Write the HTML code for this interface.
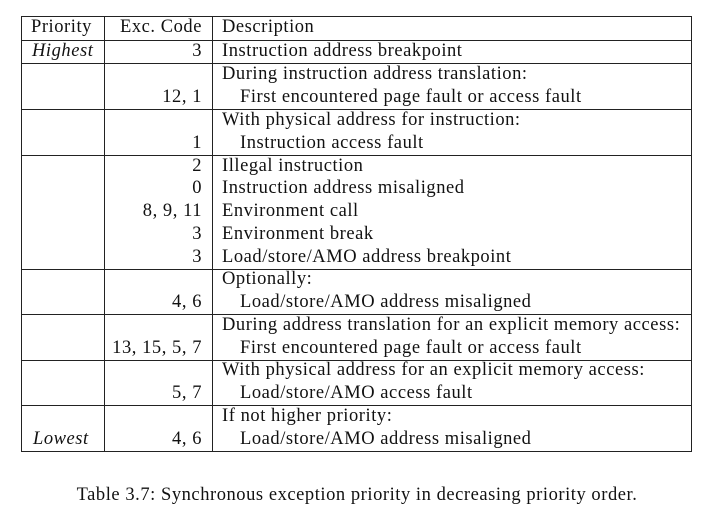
<!DOCTYPE html>
<html><head><meta charset="utf-8"><style>
body{margin:0;background:#fff;width:722px;height:521px;position:relative;overflow:hidden;font-family:"Liberation Serif",serif;font-size:18.5px;letter-spacing:0.55px;color:#111}
.h{position:absolute;height:1px;background:#222;left:21px;width:671px}
.v{position:absolute;width:1px;background:#222;top:16px;height:436px}
.t{position:absolute;white-space:nowrap;line-height:23px}
.r{text-align:right;width:100px;left:102px}
.l{left:222px}
.i{font-style:italic}
</style></head><body>
<div class="h" style="top:16px"></div>
<div class="h" style="top:40px"></div>
<div class="h" style="top:63px"></div>
<div class="h" style="top:109px"></div>
<div class="h" style="top:155px"></div>
<div class="h" style="top:269px"></div>
<div class="h" style="top:314px"></div>
<div class="h" style="top:360px"></div>
<div class="h" style="top:405px"></div>
<div class="h" style="top:451px"></div>
<div class="v" style="left:21px"></div>
<div class="v" style="left:104px"></div>
<div class="v" style="left:212px"></div>
<div class="v" style="left:691px"></div>

<div class="t" style="left:31px;top:16px">Priority</div>
<div class="t r" style="top:16px">Exc. Code</div>
<div class="t l" style="top:16px">Description</div>

<div class="t i" style="left:32px;top:40px">Highest</div>
<div class="t r" style="top:40px">3</div>
<div class="t l" style="top:40px">Instruction address breakpoint</div>

<div class="t l" style="top:63px">During instruction address translation:</div>
<div class="t r" style="top:86px">12, 1</div>
<div class="t l" style="top:86px;left:240px">First encountered page fault or access fault</div>

<div class="t l" style="top:109px">With physical address for instruction:</div>
<div class="t r" style="top:132px">1</div>
<div class="t l" style="top:132px;left:240px">Instruction access fault</div>

<div class="t r" style="top:155px">2</div>
<div class="t l" style="top:155px">Illegal instruction</div>
<div class="t r" style="top:177px">0</div>
<div class="t l" style="top:177px">Instruction address misaligned</div>
<div class="t r" style="top:200px">8, 9, 11</div>
<div class="t l" style="top:200px">Environment call</div>
<div class="t r" style="top:223px">3</div>
<div class="t l" style="top:223px">Environment break</div>
<div class="t r" style="top:246px">3</div>
<div class="t l" style="top:246px">Load/store/AMO address breakpoint</div>

<div class="t l" style="top:268px">Optionally:</div>
<div class="t r" style="top:291px">4, 6</div>
<div class="t l" style="top:291px;left:240px">Load/store/AMO address misaligned</div>

<div class="t l" style="top:314px">During address translation for an explicit memory access:</div>
<div class="t r" style="top:337px">13, 15, 5, 7</div>
<div class="t l" style="top:337px;left:240px">First encountered page fault or access fault</div>

<div class="t l" style="top:359px">With physical address for an explicit memory access:</div>
<div class="t r" style="top:382px">5, 7</div>
<div class="t l" style="top:382px;left:240px">Load/store/AMO access fault</div>

<div class="t l" style="top:405px">If not higher priority:</div>
<div class="t i" style="left:33px;top:428px">Lowest</div>
<div class="t r" style="top:428px">4, 6</div>
<div class="t l" style="top:428px;left:240px">Load/store/AMO address misaligned</div>

<div class="t" style="left:0;width:714px;text-align:center;top:484px">Table 3.7: Synchronous exception priority in decreasing priority order.</div>
</body></html>
